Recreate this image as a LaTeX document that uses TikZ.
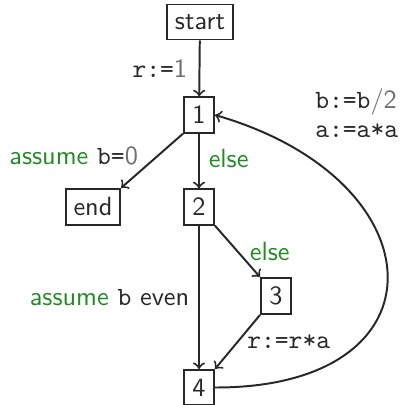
\documentclass[tikz,border=0pt]{standalone}
\renewcommand{\familydefault}{\sfdefault}
\definecolor{ink}{RGB}{40,40,40}
\definecolor{numgray}{RGB}{110,110,110}
\definecolor{cond}{RGB}{34,139,34}
\newcommand{\nm}[1]{{\color{numgray}#1}}
\newcommand{\asm}{{\color{cond}assume}}
\begin{document}
\begin{tikzpicture}[x = 0.38pt, y = -0.38pt, line width = 0.75pt, color = ink,
		loc/.style = {draw, inner xsep = 2.9pt, minimum width = 11.4pt, minimum height = 13.3pt}]
		\useasboundingbox (0,0) rectangle (402,405);
		\node[loc] (start) at (200,22) {start};
		\node[loc] (n1) at (199,115) {1};
		\node[loc] (end) at (93,207) {end};
		\node[loc] (n2) at (199,207) {2};
		\node[loc] (n3) at (276,296) {3};
		\node[loc] (n4) at (199,387.5) {4};
		\draw[->] (start) -- node[left, xshift = -1pt] {\texttt{r:=}\nm{1}} (n1);
		\draw[->] (n1.south west) -- node[pos = 0.4, left = 4pt] {\asm{} \texttt{b=}\nm{0}} (end.north east);
		\draw[->] (n1) -- node[pos = 0.45, right] {\color{cond}else} (n2);
		\draw[->] (n2) -- node[midway, left] {\asm{} \texttt{b} even} (n4);
		\draw[->] (n2.south east) -- node[midway, right = 1pt] {\color{cond}else} (n3.north west);
		\draw[->] (n3.south west) -- node[midway, right] {\texttt{r:=r*a}} (n4.north east);
		\draw[->] (n4.east) .. controls (450,388) and (440,180) ..
			node[pos = 0.8, anchor = south west, xshift = -7pt, yshift = 8pt, align = left]
			{\texttt{b:=b}\nm{/2}\\[-1pt]\texttt{a:=a*a}} (n1.east);
	\end{tikzpicture}
\end{document}
